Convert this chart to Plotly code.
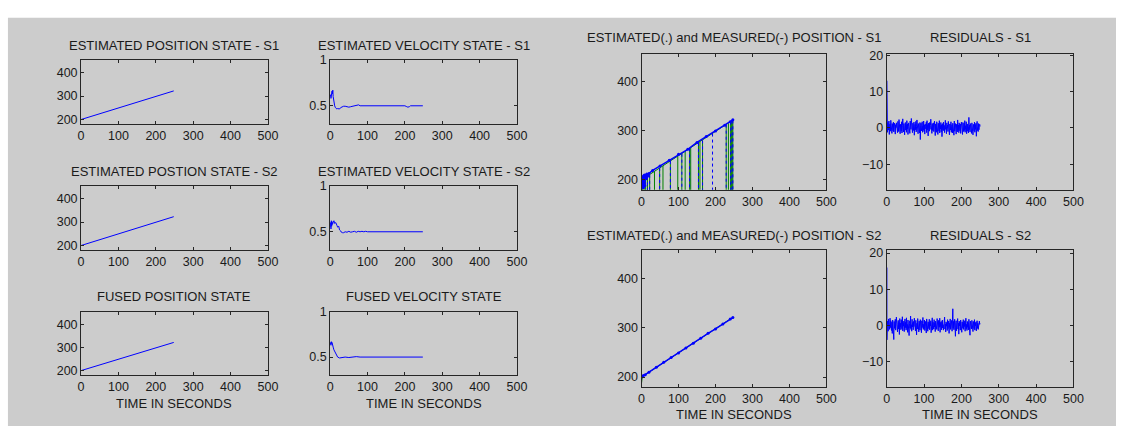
import plotly.graph_objects as go

# ---------------- data ----------------
pos_t = [0, 50, 100, 150, 200, 248]
pos_s1 = [200, 225, 249, 273, 298, 322]
pos_s2 = [200, 225, 250, 274, 299, 323]
pos_fused = [200, 225, 249, 274, 298, 322]

vel_s1_t = [0, 1, 2, 3, 4, 5, 6, 7, 8, 9, 10, 12, 14, 16, 18, 20, 22, 25, 28, 32, 36, 40, 45, 50, 55, 60, 65, 70,
            73, 76, 80, 90, 100, 150, 200, 205, 208, 212, 215, 248]
vel_s1 = [0.60, 0.62, 0.58, 0.64, 0.61, 0.66, 0.63, 0.67, 0.60, 0.56, 0.53, 0.50, 0.48, 0.47, 0.465, 0.47, 0.47,
          0.465, 0.48, 0.49, 0.495, 0.495, 0.49, 0.485, 0.49, 0.495, 0.50, 0.51, 0.515, 0.51, 0.50, 0.50, 0.50,
          0.50, 0.50, 0.49, 0.485, 0.49, 0.50, 0.50]

vel_s2_t = [0, 1, 2, 3, 4, 5, 6, 8, 10, 12, 15, 18, 20, 23, 25, 28, 30, 33, 36, 40, 45, 50, 55, 60, 65, 70, 75,
            80, 85, 90, 95, 100, 150, 200, 248]
vel_s2 = [0.55, 0.60, 0.53, 0.62, 0.56, 0.61, 0.58, 0.60, 0.62, 0.59, 0.60, 0.57, 0.55, 0.56, 0.52, 0.51, 0.495,
          0.49, 0.49, 0.50, 0.495, 0.505, 0.495, 0.50, 0.505, 0.495, 0.505, 0.50, 0.505, 0.50, 0.505, 0.50, 0.50,
          0.50, 0.50]

vel_f_t = [0, 1, 2, 3, 4, 5, 6, 8, 10, 13, 16, 20, 25, 30, 35, 40, 50, 60, 70, 80, 100, 150, 200, 248]
vel_f = [0.64, 0.66, 0.63, 0.67, 0.65, 0.66, 0.63, 0.61, 0.58, 0.55, 0.52, 0.50, 0.49, 0.495, 0.50, 0.50, 0.495,
         0.50, 0.505, 0.50, 0.50, 0.50, 0.50, 0.50]

# estimated (.) and measured (-) position S1
em1_est_t = [0, 1, 2, 3, 4, 5, 6, 7, 8, 9, 10, 12, 14, 16, 20, 30, 50, 75, 100, 125, 150, 175, 200, 225, 240, 247]
em1_est = [205, 186, 206, 190, 203, 184, 208, 195, 210, 188, 209, 202, 212, 207, 213, 219, 228, 240, 252, 262,
           276, 288, 299, 311, 318, 322]
em1_meas_t = [0, 248]
em1_meas = [200, 322]
drop1_t = [3, 7, 11, 16, 22, 35, 49, 58, 78, 98, 109, 118, 130, 133, 154, 158, 165, 192, 229, 235, 241, 243, 245, 247]
drop1_top = [201, 203, 205, 207, 210, 217, 224, 228, 238, 248, 253, 258, 264, 265, 275, 277, 280, 294, 312, 315,
             318, 319, 320, 321]
drop1_kind = ["gb", "gb", "g", "gb", "gb", "g", "gb", "g", "gb", "g", "gb", "g", "gb", "g", "gb", "g", "gb", "b",
              "gb", "g", "gb", "g", "gb", "gb"]
drop_bottom = 0

# estimated (.) and measured (-) position S2
em2_est_t = [0, 5, 10, 20, 40, 60, 80, 100, 120, 140, 160, 180, 200, 220, 240, 247]
em2_est = [200, 203, 205, 210, 220, 230, 240, 249, 259, 269, 279, 289, 298, 308, 318, 321]
em2_meas_t = [0, 1, 2, 248]
em2_meas = [188, 199, 201, 322]

res1_t = [0.6, 0.6] + list(range(1, 251))
res1 = [13.0, 0.0,
        0.8, -1.2, 1.5, 0.3, -0.6, 1.9, -1.8, 0.4, 1.1, -0.9, 2.1, -0.3, 0.7, -1.5, 1.2, 0.2, -0.8, 1.6, -1.1, 0.5, 1.3, -0.4, -1.7, 0.9, 0.1,
        1.4, -0.7, 0.6, -1.3, 1.8, 0.0, -1.0, 2.3, -0.5, 0.8, -1.6, 1.0, 0.3, -0.9, 1.7, -1.4, 0.6, 2.5, -0.2, -1.1, 1.2, 0.4, -1.9, 0.7, 1.5,
        -0.6, 0.9, -1.2, 2.0, -0.3, 1.1, -1.8, 0.5, 1.4, -0.8, 0.2, -1.5, 1.9, 0.6, -0.4, 2.6, -1.0, 0.8, -1.3, 1.3, 0.1, -0.7, 1.6, -2.0, 0.4,
        1.0, -0.5, 1.8, -1.1, 0.3, 2.2, -0.9, 0.7, -1.6, 1.2, -0.2, 0.9, -1.4, 1.5, -3.2, 0.6, 1.3, -0.8, 0.2, 1.7, -1.2, 0.5, -0.6, 1.9, -1.0,
        0.8, -1.7, 1.1, 0.4, -0.3, 1.6, -1.3, 2.0, -0.5, 0.9, -2.2, 1.3, 0.0, -0.9, 1.5, -0.4, 0.7, 2.4, -1.1, 0.3, -1.5, 1.2, -0.7, 0.6, 1.4,
        -1.0, 0.5, 1.9, -0.6, -2.1, 1.1, 0.3, -1.2, 1.7, -0.2, 0.8, -1.8, 1.3, 0.4, -0.9, 2.0, -1.4, 0.6, -0.3, 1.5, -1.1, 0.9, -2.4, 0.2, 1.2,
        -0.5, 1.6, -0.8, 0.7, -1.3, 1.0, 2.1, -0.4, 0.3, -1.6, 1.4, -0.1, 0.8, -1.0, 1.8, -0.7, 0.5, -1.9, 1.1, 0.2, -0.6, 1.7, -1.2, 0.4, 0.9,
        -1.4, 1.3, -0.3, 0.6, -2.0, 1.9, -0.9, 0.1, 1.2, -0.5, -1.7, 1.0, 0.5, -1.1, 2.2, -0.6, 0.8, -1.3, 1.4, 0.0, -0.8, 1.1, -1.5, 0.7, 1.6,
        -0.4, 0.9, -1.8, 1.5, 0.2, -1.0, 1.3, -0.7, 2.0, -1.2, 0.6, -0.3, 1.7, -1.6, 0.4, 1.1, -0.9, 0.3, -1.4, 2.9, -0.5, 0.8, -1.1, 1.2, -0.2,
        0.7, -1.5, 1.4, -0.6, 0.5, -1.9, 1.0, 0.2, -0.8, 1.6, -1.2, 0.9, -0.4, 1.3, -2.3, 0.6, 1.8, -0.7, 0.1, -1.0, 1.2, -0.5, 0.8, 1.0, 0.4]

res2_t = [0.6, 0.6] + list(range(1, 251))
res2 = [16.0, -4.0,
        -0.9, 1.2, 0.4, -1.6, 1.8, -0.3, 0.7, -1.1, 2.0, -0.6, 1.3, 0.1, -1.4, 0.9, -2.2, 1.5, -0.5, 0.6, -3.9, 1.1, -0.8, 0.3, 1.7, -1.3, 0.5,
        2.3, -0.7, 1.0, -1.8, 0.2, 1.4, -1.0, 0.8, -2.5, 1.9, -0.4, 0.6, -1.2, 1.6, 0.0, -0.9, 2.4, -1.5, 0.7, -0.2, 1.2, -1.7, 0.4, 1.8, -0.6,
        0.9, -1.3, 2.1, -0.8, 0.3, -1.9, 1.5, -0.1, 1.0, -2.8, 0.5, 1.3, -0.7, 2.6, -1.1, 0.2, -1.6, 1.7, -0.4, 0.8, -1.2, 1.1, -0.3, 2.0, -0.9,
        0.4, -1.5, 1.4, -2.3, -2.6, 0.6, -1.0, 1.9, -0.5, 0.7, -1.8, 1.2, 0.1, -1.3, 1.6, -0.2, 0.9, -2.0, 1.3, -0.6, 0.5, 2.2, -1.1, 0.3, -0.8,
        1.5, -1.4, 0.2, 1.1, -0.7, -2.1, 1.8, -0.3, 0.6, -1.6, 1.0, 0.4, -0.9, 1.7, -1.2, 0.8, -0.1, 1.3, -2.0, 0.5, -0.6, 2.1, -1.3, 0.9, 0.0,
        -1.0, 1.6, -0.4, 0.7, -1.7, 1.2, -0.2, 0.3, -1.1, 1.9, -0.8, 0.6, -1.5, 1.4, 0.1, -0.5, 2.0, -1.9, 0.8, -0.3, 1.1, -1.2, 0.5, 1.5, -0.7,
        0.2, -1.3, 1.3, -0.6, 2.3, -1.0, 0.4, -1.8, 1.0, -0.2, 0.7, -1.4, 1.6, -0.9, 0.3, 1.2, -2.2, 0.6, -0.5, 1.8, -1.1, 0.9, -0.4, 1.4, -1.6,
        0.5, 4.6, -0.8, 1.1, -1.2, 0.3, 1.7, -0.6, -3.0, 0.8, 1.3, -1.5, 0.2, -0.7, 1.9, -1.0, 0.6, -2.4, 1.2, -0.1, 0.9, -1.3, 1.5, -0.4, 0.4,
        -1.9, 1.0, 0.1, -0.8, 1.6, -1.1, 0.7, -0.3, 1.3, -1.6, 0.5, 2.0, -0.9, 0.3, -1.4, 1.1, -0.5, 0.8, -1.2, 1.7, -0.2, 0.6, -2.7, 1.2, -0.6,
        0.9, -1.0, 1.4, -0.4, 0.2, -1.7, 1.1, 0.5, -0.9, 1.6, -1.3, 0.7, -0.1, 1.0, -1.5, 0.4, 1.3, -0.8, 0.6, -1.1, 0.8, -0.3, 1.2, 0.3, 0.5]

x_ticks = [0, 100, 200, 300, 400, 500]
pos_ticks = [200, 300, 400]
vel_ticks = [0.5, 1]
res_ticks = [-10, 0, 10, 20]

titles = ["ESTIMATED POSITION STATE - S1", "ESTIMATED VELOCITY STATE - S1",
          "ESTIMATED POSTION STATE - S2", "ESTIMATED VELOCITY STATE - S2",
          "FUSED POSITION STATE", "FUSED VELOCITY STATE",
          "ESTIMATED(.) and MEASURED(-) POSITION - S1", "RESIDUALS - S1",
          "ESTIMATED(.) and MEASURED(-) POSITION - S2", "RESIDUALS - S2"]
xlabel = "TIME IN SECONDS"

# ---------------- layout geometry (pixels of the 1126x429 picture) ----------------
W, H = 1126, 429
BLUE = "#0000ff"
GREEN = "#008000"
FONT = "Liberation Sans, Arial, sans-serif"
TXT = "#1a1a1a"

# (x0, x1, y_top, y_bottom, yrange, yticks, title_y)
panels = [
    (79, 268, 54, 120, [180, 455], pos_ticks, 39),
    (331, 520, 54, 120, [0.3, 1.0], vel_ticks, 39),
    (79, 268, 183, 249, [180, 455], pos_ticks, 168),
    (331, 520, 183, 249, [0.3, 1.0], vel_ticks, 168),
    (79, 268, 312, 377, [180, 455], pos_ticks, 296),
    (331, 520, 312, 377, [0.3, 1.0], vel_ticks, 296),
    (646, 833, 48, 187, [180, 456], pos_ticks, 31.5),
    (894, 1083, 48, 187, [-17, 20.4], res_ticks, 31.5),
    (646, 833, 249, 389, [180, 458], pos_ticks, 234),
    (894, 1083, 249, 389, [-17, 20.8], res_ticks, 234),
]

fig = go.Figure()
layout = dict(width=W, height=H, margin=dict(l=0, r=0, t=0, b=0, pad=0),
              paper_bgcolor="white", plot_bgcolor="white", showlegend=False,
              font=dict(family=FONT, size=12, color=TXT))
annotations = []
axis_common = dict(showgrid=False, zeroline=False, showline=True, linecolor="#262626", linewidth=1,
                   mirror="allticks", ticks="inside", ticklen=3, tickcolor="#262626",
                   tickfont=dict(family=FONT, size=12.5, color=TXT))
for i, (x0, x1, yt, yb, yr, yt_vals, ty) in enumerate(panels):
    n = "" if i == 0 else str(i + 1)
    layout["xaxis" + n] = dict(domain=[x0 / W, x1 / W], range=[0, 500], tickvals=x_ticks,
                               anchor="y" + n, **axis_common)
    layout["yaxis" + n] = dict(domain=[1 - yb / H, 1 - yt / H], range=yr, tickvals=yt_vals,
                               anchor="x" + n, **axis_common)
    annotations.append(dict(text=titles[i], x=(x0 + x1) / 2 / W, y=1 - ty / H, xref="paper", yref="paper",
                            xanchor="center", yanchor="middle", showarrow=False,
                            font=dict(family=FONT, size=13, color=TXT)))

for (cx, cy) in [((79 + 268) / 2, 406), ((331 + 520) / 2, 406), ((646 + 833) / 2, 417), ((894 + 1083) / 2, 417)]:
    annotations.append(dict(text=xlabel, x=cx / W, y=1 - cy / H, xref="paper", yref="paper",
                            xanchor="center", yanchor="middle", showarrow=False,
                            font=dict(family=FONT, size=13, color=TXT)))

layout["annotations"] = annotations
layout["shapes"] = [dict(type="rect", xref="paper", yref="paper", x0=5 / W, x1=1, y0=0, y1=1 - 11 / H,
                         fillcolor="#cccccc", line=dict(width=0), layer="below")]
fig.update_layout(**layout)


def line(x, y, ax, color=BLUE, width=1, dash="solid", mode="lines", msize=3):
    n = "" if ax == 1 else str(ax)
    fig.add_trace(go.Scatter(x=x, y=y, xaxis="x" + n, yaxis="y" + n, mode=mode,
                             line=dict(color=color, width=width, dash=dash),
                             marker=dict(color=color, size=msize), hoverinfo="skip"))


line(pos_t, pos_s1, 1)
line(vel_s1_t, vel_s1, 2)
line(pos_t, pos_s2, 3)
line(vel_s2_t, vel_s2, 4)
line(pos_t, pos_fused, 5)
line(vel_f_t, vel_f, 6)

# panel 7: estimated vs measured S1
gx, gy, bx, by = [], [], [], []
for t, top, k in zip(drop1_t, drop1_top, drop1_kind):
    if "g" in k:
        gx += [t, t, None]
        gy += [top, drop_bottom, None]
    if "b" in k:
        bx += [t, t, None]
        by += [top, drop_bottom, None]
line(em1_meas_t, em1_meas, 7, color=GREEN, width=1)
line(gx, gy, 7, color=GREEN, width=1)
line(bx, by, 7, color=BLUE, width=1, dash="dot")
line(em1_est_t, em1_est, 7, color=BLUE, width=1.5, mode="lines+markers", msize=3)

line(res1_t, res1, 8)

line(em2_meas_t, em2_meas, 9, color=GREEN, width=1)
line(em2_est_t, em2_est, 9, color=BLUE, width=1.5, mode="lines+markers", msize=3)

line(res2_t, res2, 10)

fig.write_html("out.html", config={"displayModeBar": False},
               post_script="document.body.style.margin='0';document.body.style.padding='0';"
                           "document.documentElement.style.overflow='hidden';"
                           "var d=document.getElementById('{plot_id}');"
                           "d.style.position='fixed';d.style.left='0px';d.style.top='0px';")
